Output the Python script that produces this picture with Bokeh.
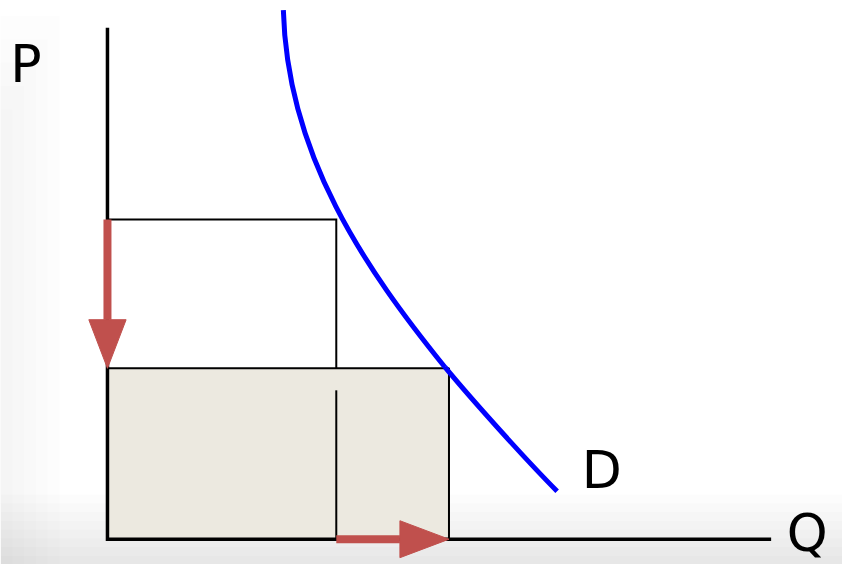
from bokeh.plotting import figure
from bokeh.models import Range1d
from bokeh.embed import file_html
from bokeh.resources import INLINE
from bokeh.core.properties import value

# ---------------- data (economic units) ----------------
Q_AXIS_END = 11.66          # length of Q axis
P_AXIS_TOP = 9.07           # height of P axis
Q_OLD, Q_NEW = 4.02, 6.00   # quantity before / after
P_OLD, P_NEW = 5.67, 3.03   # price before / after
Q_OLD_MARK_TOP = 2.64       # top of the inner Q_OLD marker line

# demand curve as two cubic Bezier pieces (start, control 1, control 2, end)
DEMAND_Q0 = [3.09, 5.93]
DEMAND_P0 = [9.38, 3.05]
DEMAND_CQ0 = [3.16, 6.42]
DEMAND_CP0 = [6.79, 2.45]
DEMAND_CQ1 = [4.53, 7.36]
DEMAND_CP1 = [4.80, 1.40]
DEMAND_Q1 = [5.93, 7.90]
DEMAND_P1 = [3.05, 0.85]

AXIS_LABELS = ["P", "Q"]
CURVE_LABEL = "D"

# ---------------- layout / style ----------------
W, H = 842, 564
REF_W, REF_H = 858, 580
PX = 58.0                            # reference pixels per unit
ORIGIN_X, ORIGIN_Y = 109, 554        # origin in reference pixels (from top-left)

RED = "#C0504D"
BLUE = "#0000FF"
FILL = "#ECE9E0"
FONT = "DejaVu Sans"
FONT_SIZE = "52px"

x_range = Range1d(-ORIGIN_X / PX, (REF_W - ORIGIN_X) / PX)
y_range = Range1d(-(REF_H - ORIGIN_Y) / PX, ORIGIN_Y / PX)

p = figure(width=W, height=H, x_range=x_range, y_range=y_range,
           x_axis_type=None, y_axis_type=None,
           output_backend="svg", toolbar_location=None, min_border=0)
p.grid.visible = False
p.outline_line_color = None
p.background_fill_color = "white"
p.border_fill_color = "white"

# ---------------- faint background shading ----------------
xs, xe = x_range.start, x_range.end
ys, ye = y_range.start, y_range.end
for k in range(1, 9):
    p.quad(left=xs, right=xe, bottom=ys, top=ys + k * 9 / PX,
           fill_color="#808080", fill_alpha=0.026, line_color=None)
for k in range(1, 6):
    p.quad(left=xs, right=xs + k * 12 / PX, bottom=ys, top=ys + (H - 120 + k * 24) / PX,
           fill_color="#808080", fill_alpha=0.016, line_color=None)

# ---------------- rectangles ----------------
p.quad(left=0, right=Q_NEW, bottom=0, top=P_NEW,
       fill_color=FILL, line_color="black", line_width=2)
p.line([0, Q_OLD, Q_OLD], [P_OLD, P_OLD, P_NEW],
       line_color="black", line_width=2, line_join="miter")
p.segment(x0=[Q_OLD], y0=[0], x1=[Q_OLD], y1=[Q_OLD_MARK_TOP],
          line_color="black", line_width=2)

# ---------------- axes ----------------
p.line([0, 0, Q_AXIS_END], [P_AXIS_TOP, 0, 0],
       line_color="black", line_width=3.5, line_join="miter")

# ---------------- demand curve ----------------
p.bezier(x0=DEMAND_Q0, y0=DEMAND_P0, x1=DEMAND_Q1, y1=DEMAND_P1,
         cx0=DEMAND_CQ0, cy0=DEMAND_CP0, cx1=DEMAND_CQ1, cy1=DEMAND_CP1,
         line_color=BLUE, line_width=5)

# ---------------- red arrows ----------------
head_len = 50 / PX
head_half = 19 / PX
shaft_w = 8

# price falls: P_OLD -> P_NEW along the P axis
p.segment(x0=[0], y0=[P_OLD], x1=[0], y1=[P_NEW + head_len],
          line_color=RED, line_width=shaft_w, line_cap="butt")
p.patch([-head_half, head_half, 0],
        [P_NEW + head_len, P_NEW + head_len, P_NEW],
        fill_color=RED, line_color=RED, line_width=1)

# quantity rises: Q_OLD -> Q_NEW along the Q axis
p.segment(x0=[Q_OLD], y0=[0], x1=[Q_NEW - head_len], y1=[0],
          line_color=RED, line_width=shaft_w, line_cap="butt")
p.patch([Q_NEW - head_len, Q_NEW - head_len, Q_NEW],
        [-head_half, head_half, 0],
        fill_color=RED, line_color=RED, line_width=1)

# ---------------- labels ----------------
lab_x = [0 - 99 / PX, Q_AXIS_END + 16 / PX, DEMAND_Q1[-1] + 25 / PX]
lab_y = [P_AXIS_TOP - 37 / PX, 0 + 6 / PX, DEMAND_P1[-1] + 22 / PX]
p.text(x=lab_x, y=lab_y, text=AXIS_LABELS + [CURVE_LABEL],
       text_font=value(FONT), text_font_size=FONT_SIZE,
       text_color="black", text_align="left", text_baseline="alphabetic")

open("out.html", "w").write(file_html(p, INLINE))
